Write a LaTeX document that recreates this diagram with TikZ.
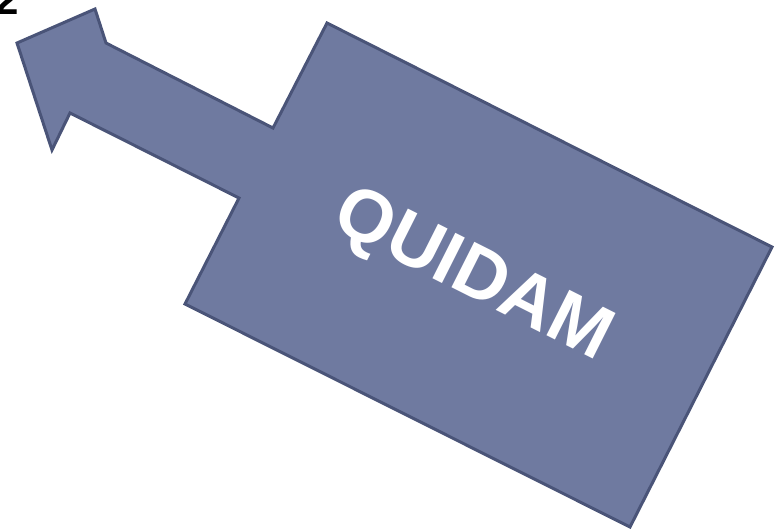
\documentclass[tikz,border=0pt]{standalone}
\usepackage{fontspec}
\setmainfont{Liberation Sans}
\definecolor{shapefill}{RGB}{111,122,160}
\definecolor{shapeedge}{RGB}{74,84,120}
\tikzset{
  arrowshape/.style={fill=shapefill, draw=shapeedge, line width=3pt, line join=miter},
  labeltext/.style={text=white, font=\fontsize{74}{74}\selectfont\bfseries, inner sep=0pt},
  cornertext/.style={text=black, font=\fontsize{42}{42}\selectfont\bfseries, inner sep=0pt, anchor=base west}
}
\begin{document}
\begin{tikzpicture}[x=1pt,y=-1pt]
\useasboundingbox (0,0) rectangle (775,531);
\node[cornertext] (corner) at (-5,14) {2};
\draw[arrowshape] (17,43) -- (95,9) -- (106,43) -- (273,128) -- (327,23) -- (772,247)
  -- (630,527) -- (185,304) -- (239,198) -- (70,113) -- (52,150) -- cycle;
\node[labeltext, rotate=-26.7] (label) at (472,277) {QUIDAM};
\end{tikzpicture}
\end{document}
